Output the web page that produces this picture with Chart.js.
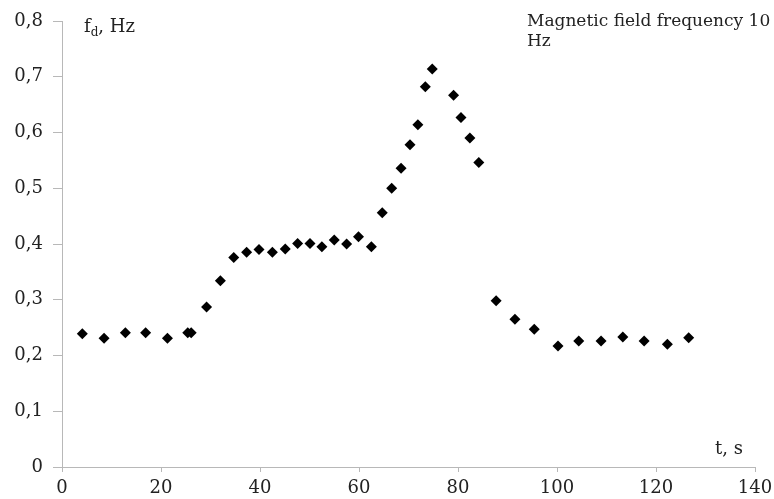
<!DOCTYPE html>
<html>
<head>
<meta charset="utf-8">
<script src="https://cdn.jsdelivr.net/npm/chart.js@4"></script>
<style>
  body { margin: 0; background: #fff; }
</style>
</head>
<body>
<canvas id="grafico" width="774" height="499"></canvas>
<script>
// tempo (s) e frequencia f_d (Hz)
const tempo = [4.1, 8.5, 12.8, 16.9, 21.3, 25.4, 26.1, 29.2, 32.0, 34.7, 37.3, 39.8,
  42.5, 45.1, 47.6, 50.1, 52.5, 55.0, 57.5, 59.9, 62.5, 64.7, 66.6, 68.5, 70.3,
  71.9, 73.4, 74.8, 79.1, 80.6, 82.4, 84.2, 87.7, 91.5, 95.4, 100.2, 104.4,
  108.9, 113.3, 117.6, 122.3, 126.6];
const freq = [0.239, 0.231, 0.241, 0.241, 0.231, 0.241, 0.241, 0.287, 0.334, 0.376, 0.385, 0.390,
  0.385, 0.391, 0.401, 0.401, 0.395, 0.407, 0.400, 0.413, 0.395, 0.456, 0.500, 0.536, 0.578,
  0.614, 0.682, 0.714, 0.667, 0.627, 0.590, 0.546, 0.298, 0.265, 0.247, 0.217, 0.226,
  0.226, 0.233, 0.226, 0.220, 0.232];

const titulo = ['Magnetic field frequency 10', 'Hz'];
const rotuloY = ['f', 'd', ', Hz'];
const rotuloX = 't, s';

const fonte = 'DejaVu Serif';
const corTexto = '#222';
const corEixo = '#b8b8b8';

// escreve os rotulos soltos dentro da area do grafico
const textos = {
  id: 'textos',
  afterDraw(chart) {
    const c = chart.ctx;
    c.save();
    c.fillStyle = corTexto;
    c.textBaseline = 'alphabetic';
    c.textAlign = 'left';

    c.font = '18px "' + fonte + '"';
    let x = 84;
    c.fillText(rotuloY[0], x, 32);
    x += c.measureText(rotuloY[0]).width;
    c.font = '12px "' + fonte + '"';
    c.fillText(rotuloY[1], x, 36);
    x += c.measureText(rotuloY[1]).width;
    c.font = '18px "' + fonte + '"';
    c.fillText(rotuloY[2], x, 32);

    c.font = '17px "' + fonte + '"';
    c.fillText(titulo[0], 527, 26);
    c.fillText(titulo[1], 527, 46);

    c.font = '18px "' + fonte + '"';
    c.fillText(rotuloX, 715, 454);
    c.restore();
  }
};

const pontos = tempo.map((t, i) => ({ x: t, y: freq[i] }));

const chart = new Chart(document.getElementById('grafico').getContext('2d'), {
  type: 'scatter',
  data: {
    datasets: [{
      data: pontos,
      pointStyle: 'rectRot',
      pointRadius: 5.5,
      pointHoverRadius: 5.5,
      backgroundColor: '#000',
      borderColor: '#000',
      borderWidth: 0
    }]
  },
  options: {
    responsive: false,
    animation: false,
    layout: { padding: { top: 21, right: 19, left: 0, bottom: 0 } },
    plugins: { legend: { display: false }, tooltip: { enabled: false } },
    scales: {
      x: {
        type: 'linear',
        min: 0,
        max: 140,
        afterFit: (s) => { s.height = 32; s.paddingRight = 0; s.paddingLeft = 0; },
        ticks: {
          stepSize: 20,
          padding: 6,
          maxRotation: 0,
          color: corTexto,
          font: { family: fonte, size: 18 }
        },
        grid: { drawOnChartArea: false, tickLength: 5, color: corEixo },
        border: { color: corEixo }
      },
      y: {
        min: 0,
        max: 0.8,
        afterFit: (s) => { s.width = 62; s.paddingTop = 0; s.paddingBottom = 0; },
        ticks: {
          stepSize: 0.1,
          padding: 10,
          color: corTexto,
          font: { family: fonte, size: 18 },
          callback: (v) => v === 0 ? '0' : v.toFixed(1).replace('.', ',')
        },
        grid: { drawOnChartArea: false, tickLength: 9, color: corEixo },
        border: { color: corEixo }
      }
    }
  },
  plugins: [textos]
});
</script>
</body>
</html>
